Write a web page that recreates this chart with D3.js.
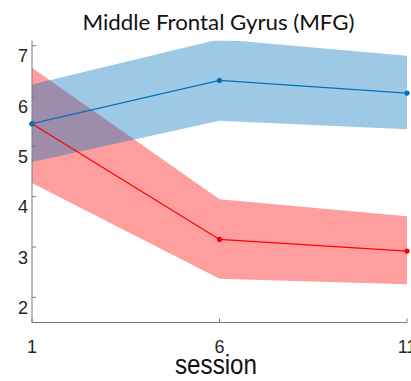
<!DOCTYPE html>
<html>
<head>
<meta charset="utf-8">
<script src="https://cdn.jsdelivr.net/npm/d3@7/dist/d3.min.js"></script>
<style>
  html, body { margin: 0; padding: 0; background: #fff; }
  svg { display: block; }
</style>
</head>
<body>
<svg id="chart" width="411" height="381"></svg>
<script>
// Sessions on the x axis
const sessions = [1, 6, 11];

// Blue group: mean and shaded interval
const blueMean  = [5.45, 6.31, 6.06];
const blueUpper = [6.23, 7.13, 6.80];
const blueLower = [4.69, 5.51, 5.34];

// Red group: mean and shaded interval
const redMean  = [5.45, 3.15, 2.92];
const redUpper = [6.56, 3.95, 3.61];
const redLower = [4.27, 2.37, 2.26];

// Axis ticks
const xTicks = [1, 6, 11];
const yTicks = [2, 3, 4, 5, 6, 7];

const svg = d3.select("#chart");

const x = d3.scaleLinear().domain([1, 11]).range([32, 407]);
const y = d3.scaleLinear().domain([1.5, 7.1]).range([322.5, 40.7]);

svg.append("defs").append("clipPath").attr("id", "plotClip")
  .append("rect")
  .attr("x", x(1)).attr("y", y(7.1))
  .attr("width", x(11) - x(1)).attr("height", y(1.5) - y(7.1));

const plot = svg.append("g").attr("clip-path", "url(#plotClip)");

function band(upper, lower) {
  return d3.area()
    .x((d, i) => x(sessions[i]))
    .y0((d, i) => y(lower[i]))
    .y1((d, i) => y(upper[i]))(sessions);
}
function line(vals) {
  return d3.line()
    .x((d, i) => x(sessions[i]))
    .y((d, i) => y(vals[i]))(sessions);
}

const redCol = "rgb(255,0,0)";
const blueCol = "rgb(0,114,189)";
const alpha = 0.38;

plot.append("path").attr("d", band(redUpper, redLower))
  .attr("fill", redCol).attr("fill-opacity", alpha);
plot.append("path").attr("d", band(blueUpper, blueLower))
  .attr("fill", blueCol).attr("fill-opacity", alpha);

// Axes (MATLAB style: inward ticks, no box)
const axisCol = "#7a7a7a";
const textCol = "#262626";

svg.append("line")
  .attr("x1", x(1)).attr("x2", x(1))
  .attr("y1", y(7.1)).attr("y2", y(1.5))
  .attr("stroke", axisCol).attr("stroke-width", 1);
svg.append("line")
  .attr("x1", x(1)).attr("x2", x(11))
  .attr("y1", y(1.5)).attr("y2", y(1.5))
  .attr("stroke", axisCol).attr("stroke-width", 1);

svg.selectAll(".ytick").data(yTicks).enter().append("line")
  .attr("x1", x(1)).attr("x2", x(1) + 4)
  .attr("y1", d => y(d)).attr("y2", d => y(d))
  .attr("stroke", axisCol);
svg.selectAll(".xtick").data(xTicks).enter().append("line")
  .attr("x1", d => x(d)).attr("x2", d => x(d))
  .attr("y1", y(1.5)).attr("y2", y(1.5) - 4)
  .attr("stroke", axisCol);

svg.selectAll(".ylab").data(yTicks).enter().append("text")
  .attr("x", 28).attr("y", d => y(d) + 16.5)
  .attr("text-anchor", "end")
  .attr("font-family", "Liberation Sans, Arial, sans-serif")
  .attr("font-size", 18).attr("fill", textCol)
  .text(d => d);

svg.selectAll(".xlab").data(xTicks).enter().append("text")
  .attr("x", d => x(d)).attr("y", 352.5)
  .attr("text-anchor", "middle")
  .attr("font-family", "Liberation Sans, Arial, sans-serif")
  .attr("font-size", 18).attr("fill", textCol)
  .text(d => d);

// Mean lines with markers
const series = [
  { vals: redMean, col: redCol },
  { vals: blueMean, col: blueCol }
];
series.forEach(s => {
  plot.append("path").attr("d", line(s.vals))
    .attr("fill", "none").attr("stroke", s.col).attr("stroke-width", 1.3);
  svg.selectAll(null).data(s.vals).enter().append("circle")
    .attr("cx", (d, i) => x(sessions[i]))
    .attr("cy", d => y(d))
    .attr("r", 2.6)
    .attr("fill", s.col);
});

// Title and axis label
svg.append("text")
  .attr("x", 218.5).attr("y", 30)
  .attr("text-anchor", "middle")
  .attr("font-family", "Lato, Open Sans, sans-serif")
  .attr("font-size", 20.5).attr("fill", "#111")
  .attr("textLength", 272).attr("lengthAdjust", "spacingAndGlyphs")
  .text("Middle Frontal Gyrus (MFG)");

svg.append("text")
  .attr("x", 216).attr("y", 373.5)
  .attr("text-anchor", "middle")
  .attr("font-family", "Liberation Sans, Arial, sans-serif")
  .attr("font-size", 27).attr("fill", "#111")
  .attr("textLength", 82).attr("lengthAdjust", "spacingAndGlyphs")
  .text("session");
</script>
</body>
</html>
